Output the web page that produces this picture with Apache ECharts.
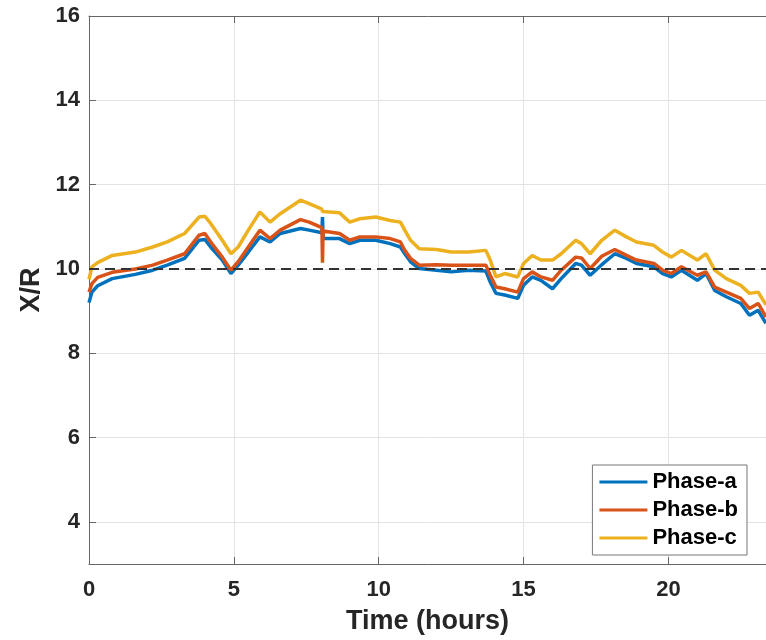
<!DOCTYPE html>
<html>
<head>
<meta charset="utf-8">
<title>X/R</title>
<script src="https://cdn.jsdelivr.net/npm/echarts@6/dist/echarts.min.js"></script>
<style>
  html, body { margin: 0; padding: 0; background: #fff; }
  #chart { width: 766px; height: 640px; }
</style>
</head>
<body>
<div id="chart"></div>
<script>
// time in hours
const hours = [0, 0.1, 0.3, 0.8, 1.6, 2.2, 2.7, 3.3, 3.8, 4.0, 4.2, 4.6, 4.9, 5.15, 5.5, 5.9, 6.25, 6.6, 7.3, 7.6,
  8.04, 8.06, 8.08, 8.65, 9.0, 9.35, 9.9, 10.4, 10.75, 10.9, 11.1, 11.4, 12.0, 12.5, 13.1, 13.7, 13.85, 14.05, 14.35, 14.8,
  15.0, 15.3, 15.6, 16.0, 16.3, 16.8, 17.0, 17.3, 17.7, 18.15, 18.55, 18.9, 19.5, 19.8, 20.1, 20.45, 21.0, 21.3, 21.6, 22.0,
  22.5, 22.8, 23.1, 23.37]

const phaseA = [9.2, 9.45, 9.6, 9.77, 9.87, 9.97, 10.09, 10.25, 10.68, 10.7, 10.52, 10.21, 9.89, 10.09, 10.4, 10.76, 10.64, 10.84, 10.96, 10.92,
  10.86, 11.23, 10.72, 10.72, 10.6, 10.68, 10.68, 10.6, 10.52, 10.36, 10.17, 10.01, 9.97, 9.93, 9.97, 9.95, 9.69, 9.42, 9.38, 9.3,
  9.61, 9.81, 9.73, 9.53, 9.77, 10.13, 10.09, 9.85, 10.1, 10.36, 10.25, 10.13, 10.05, 9.89, 9.81, 9.97, 9.73, 9.89, 9.49, 9.34,
  9.18, 8.9, 9.02, 8.71]

const phaseB = [9.45, 9.65, 9.8, 9.92, 10.0, 10.09, 10.21, 10.36, 10.8, 10.84, 10.64, 10.28, 9.97, 10.17, 10.52, 10.92, 10.72, 10.92, 11.17, 11.11,
  10.98, 10.15, 10.9, 10.84, 10.68, 10.76, 10.76, 10.72, 10.64, 10.44, 10.25, 10.09, 10.1, 10.09, 10.09, 10.09, 9.85, 9.57, 9.53, 9.45,
  9.77, 9.93, 9.81, 9.73, 9.97, 10.28, 10.26, 10.01, 10.3, 10.46, 10.32, 10.21, 10.13, 9.97, 9.89, 10.05, 9.85, 9.93, 9.57, 9.45,
  9.3, 9.06, 9.18, 8.86]

const phaseC = [9.75, 10.05, 10.15, 10.32, 10.4, 10.52, 10.64, 10.84, 11.23, 11.25, 11.08, 10.68, 10.36, 10.52, 10.92, 11.35, 11.11, 11.31, 11.63, 11.55,
  11.42, 11.36, 11.33, 11.33, 11.11, 11.19, 11.23, 11.15, 11.11, 10.92, 10.68, 10.48, 10.46, 10.4, 10.4, 10.44, 10.21, 9.81, 9.89, 9.81,
  10.13, 10.32, 10.21, 10.21, 10.36, 10.68, 10.6, 10.36, 10.68, 10.92, 10.76, 10.64, 10.56, 10.4, 10.28, 10.44, 10.21, 10.36, 9.97, 9.77,
  9.61, 9.42, 9.45, 9.15]

const yTicks = [4, 6, 8, 10, 12, 14, 16]
const refLevel = 10

const font = "'Liberation Sans', Arial, Helvetica, sans-serif"

function pairs(vals) {
  return hours.map((t, i) => [t, vals[i]])
}

let myChart = echarts.init(document.getElementById("chart"))

myChart.setOption({
  animation: false,
  textStyle: { fontFamily: font },
  grid: { left: 89, right: 0, top: 16, bottom: 76 },
  legend: {
    orient: "vertical",
    right: 19,
    bottom: 85,
    padding: [6, 9, 6, 7],
    icon: "rect",
    itemWidth: 48,
    itemHeight: 3,
    itemGap: 6,
    backgroundColor: "#fff",
    borderColor: "#777",
    borderWidth: 1,
    borderRadius: 0,
    textStyle: { fontSize: 22, fontWeight: "bold", color: "#000", fontFamily: font },
    data: ["Phase-a", "Phase-b", "Phase-c"]
  },
  xAxis: [
    {
      type: "value",
      min: 0,
      max: 23.37,
      interval: 5,
      name: "Time (hours)",
      nameLocation: "middle",
      nameGap: 44,
      nameTextStyle: { fontSize: 27, fontWeight: "bold", color: "#262626" },
      axisLine: { lineStyle: { color: "#666", width: 1 } },
      axisTick: { inside: true, length: 7, lineStyle: { color: "#666" } },
      axisLabel: { margin: 15, fontSize: 22, fontWeight: "bold", color: "#262626", showMaxLabel: false },
      splitLine: { show: true, lineStyle: { color: "#e3e3e3", width: 1 } }
    },
    {
      type: "value",
      position: "top",
      min: 0,
      max: 23.37,
      interval: 5,
      axisLine: { show: true, lineStyle: { color: "#666", width: 1 } },
      axisTick: { inside: true, length: 7, lineStyle: { color: "#666" } },
      axisLabel: { show: false },
      splitLine: { show: false }
    }
  ],
  yAxis: {
    type: "value",
    min: 3,
    max: 16,
    name: "X/R",
    nameLocation: "middle",
    nameGap: 44,
    nameTextStyle: { fontSize: 27, fontWeight: "bold", color: "#262626" },
    axisLine: { show: true, lineStyle: { color: "#666", width: 1 } },
    axisTick: { inside: true, length: 7, customValues: yTicks, lineStyle: { color: "#666" } },
    axisLabel: { margin: 9, fontSize: 22, fontWeight: "bold", color: "#262626", customValues: yTicks },
    splitLine: { show: true, lineStyle: { color: "#e3e3e3", width: 1 } }
  },
  series: [
    {
      name: "Phase-a",
      type: "line",
      symbol: "none",
      color: "#0072BD",
      lineStyle: { width: 3.5 },
      data: pairs(phaseA)
    },
    {
      name: "Phase-b",
      type: "line",
      symbol: "none",
      color: "#D95319",
      lineStyle: { width: 3.5 },
      data: pairs(phaseB)
    },
    {
      name: "Phase-c",
      type: "line",
      symbol: "none",
      color: "#EDB120",
      lineStyle: { width: 3.5 },
      data: pairs(phaseC),
      markLine: {
        silent: true,
        symbol: "none",
        label: { show: false },
        lineStyle: { type: [10, 6], color: "#333", width: 2 },
        data: [{ yAxis: refLevel }]
      }
    }
  ]
})
</script>
</body>
</html>
